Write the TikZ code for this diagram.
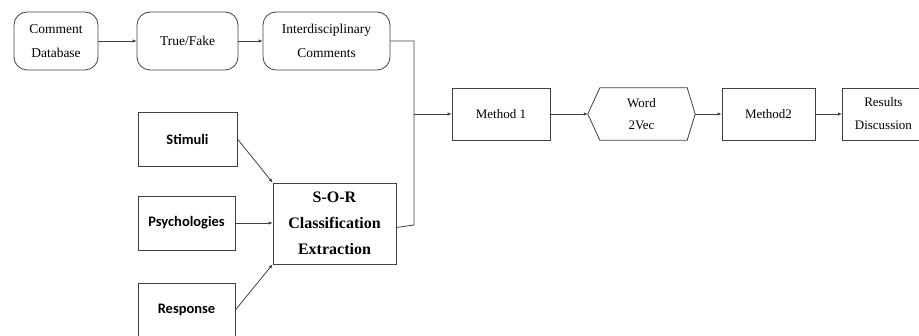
\documentclass[tikz,border=0pt]{standalone}
\usepackage{fontspec}
\setmainfont{Liberation Serif}
\newfontfamily\boxsans{Carlito}
\usetikzlibrary{arrows.meta}
\begin{document}
\begin{tikzpicture}[x=1pt,y=-1pt,
  ln/.style={draw=black!75,line width=0.8pt},
  arr/.style={ln,-{Latex[length=4pt,width=3.5pt]}},
  rbox/.style={ln,rounded corners=13pt,minimum height=58pt,align=center,font=\fontsize{13.5}{24}\selectfont,inner sep=1pt},
  sbox/.style={ln,minimum height=52pt,align=center,font=\fontsize{13}{23}\selectfont,inner sep=1pt},
  lbox/.style={ln,minimum width=97pt,minimum height=54pt,align=center,font=\boxsans\bfseries\fontsize{14.5}{16}\selectfont,inner sep=1pt}]
\useasboundingbox (0,0) rectangle (919,336);
\clip (0,0) rectangle (919,336);
% top row
\node[rbox,minimum width=84pt] (cd) at (56,41) {Comment\\Database};
\node[rbox,minimum width=101pt] (tf) at (187.5,41) {True/Fake};
\node[rbox,minimum width=127pt] (ic) at (326.5,41) {Interdisciplinary\\Comments};
% main row
\node[sbox,minimum width=98pt] (m1) at (501,114) {Method 1};
\node[minimum width=107pt,minimum height=52pt,align=center,font=\fontsize{13}{22}\selectfont,inner sep=1pt] (wv) at (641.5,114) {Word\\2Vec};
\draw[ln] (wv.west) -- ([xshift=12pt]wv.north west) -- ([xshift=-8pt]wv.north east) -- (wv.east)
  -- ([xshift=-8pt]wv.south east) -- ([xshift=12pt]wv.south west) -- cycle;
\node[sbox,minimum width=93pt] (m2) at (768.5,114) {Method2};
\node[sbox,minimum width=82pt,anchor=west] (rd) at (842,114) {Results\\Discussion};
% left boxes
\node[lbox,minimum width=99pt] (st) at (187.5,139) {Stimuli};
\node[lbox] (ps) at (186.5,223) {Psychologies};
\node[lbox] (re) at (186.5,310) {Response};
\node[ln,minimum width=123pt,minimum height=81pt,align=center,font=\bfseries\fontsize{16}{26}\selectfont,inner sep=1pt] (sor) at (334.5,223.5) {S-O-R\\Classification\\Extraction};
% connectors
\coordinate (j1) at (414,41);
\coordinate (j2) at (414,114);
\coordinate (j3) at (414,225);
\draw[arr] (cd) -- (tf);
\draw[arr] (tf) -- (ic);
\draw[ln] (ic.east) -- (j1) -- (j3) -- ([yshift=-4pt]sor.east);
\draw[arr] (j2) -- (m1);
\draw[arr] (m1) -- (wv);
\draw[arr] (wv) -- (m2);
\draw[arr] (m2) -- (rd);
\draw[arr] (st.east) -- (sor.north west);
\draw[arr] (ps.east) -- (ps.east -| sor.west);
\draw[arr] (re.east) -- (sor.south west);
\end{tikzpicture}
\end{document}
